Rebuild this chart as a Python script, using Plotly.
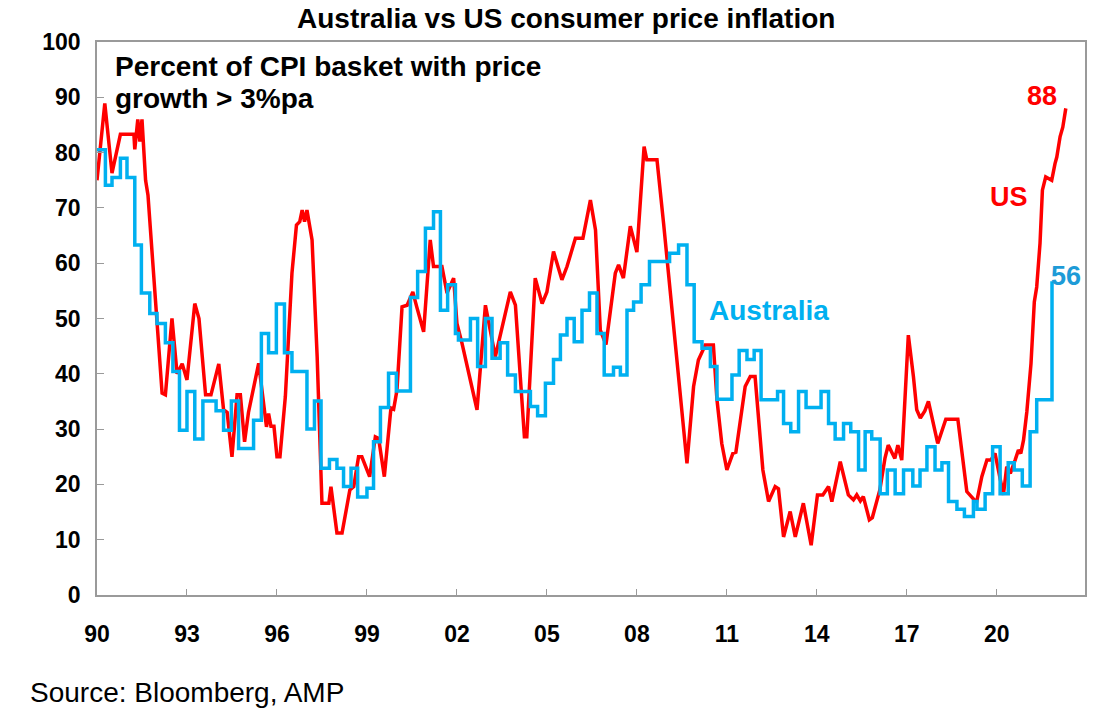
import plotly.graph_objects as go

# ---- Data ----
us_x = [1990.0, 1990.26, 1990.5, 1990.78, 1991.23, 1991.26, 1991.36, 1991.43, 1991.5, 1991.62,
        1991.7, 1992.17, 1992.28, 1992.5, 1992.67, 1992.84, 1993.0, 1993.26, 1993.4, 1993.62,
        1993.8, 1994.06, 1994.22, 1994.34, 1994.5, 1994.67, 1994.78, 1994.92, 1995.05, 1995.17,
        1995.39, 1995.65, 1995.72, 1995.8, 1995.9, 1996.0, 1996.1, 1996.28, 1996.5, 1996.65,
        1996.76, 1996.84, 1996.92, 1997.0, 1997.17, 1997.34, 1997.5, 1997.73, 1997.8, 1998.0,
        1998.17, 1998.43, 1998.56, 1998.72, 1998.83, 1999.09, 1999.28, 1999.39, 1999.58, 1999.8,
        1999.89, 2000.0, 2000.17, 2000.34, 2000.53, 2000.66, 2000.89, 2001.11, 2001.22, 2001.5,
        2001.67, 2001.89, 2002.0, 2002.17, 2002.67, 2002.95, 2003.06, 2003.28, 2003.78, 2003.95,
        2004.25, 2004.33, 2004.61, 2004.84, 2005.0, 2005.22, 2005.5, 2005.67, 2005.95, 2006.2,
        2006.45, 2006.62, 2006.78, 2006.97, 2007.28, 2007.39, 2007.55, 2007.78, 2008.0, 2008.24,
        2008.33, 2008.67, 2008.89, 2009.11, 2009.33, 2009.67, 2009.89, 2010.05, 2010.28, 2010.55,
        2010.67, 2010.83, 2011.0, 2011.2, 2011.3, 2011.61, 2011.78, 2011.94, 2012.2, 2012.39,
        2012.61, 2012.72, 2012.89, 2013.11, 2013.28, 2013.55, 2013.81, 2014.02, 2014.2, 2014.39,
        2014.5, 2014.78, 2015.05, 2015.22, 2015.33, 2015.45, 2015.55, 2015.75, 2015.85, 2016.1,
        2016.27, 2016.38, 2016.6, 2016.7, 2016.83, 2017.05, 2017.22, 2017.33, 2017.45, 2017.6,
        2017.72, 2018.03, 2018.3, 2018.7, 2019.0, 2019.1, 2019.25, 2019.33, 2019.5, 2019.67,
        2019.8, 2019.94, 2020.1, 2020.22, 2020.33, 2020.45, 2020.61, 2020.72, 2020.8, 2020.89,
        2021.0, 2021.14, 2021.25, 2021.33, 2021.44, 2021.52, 2021.63, 2021.83, 2021.94, 2022.0,
        2022.11, 2022.2, 2022.3]
us_y = [75.0, 88.9, 76.3, 83.3, 83.3, 80.6, 86.0, 82.0, 86.0, 75.0,
        72.3, 36.5, 36.2, 50.0, 40.0, 41.8, 38.9, 52.7, 50.0, 36.2,
        36.2, 41.8, 33.5, 33.0, 25.0, 36.2, 36.2, 27.7, 33.0, 36.2,
        41.9, 30.4, 32.8, 30.5, 30.5, 25.0, 25.0, 35.9, 58.2, 66.9,
        67.5, 69.6, 67.5, 69.6, 64.2, 43.1, 16.6, 16.6, 19.6, 11.2,
        11.2, 19.0, 19.6, 25.0, 25.0, 21.4, 28.6, 28.3, 21.4, 33.8,
        33.6, 37.0, 52.1, 52.4, 54.8, 52.1, 47.6, 64.2, 59.4, 59.4,
        54.6, 57.3, 49.1, 45.5, 33.5, 52.4, 49.0, 43.1, 54.8, 52.4,
        28.6, 28.6, 57.3, 52.7, 54.8, 62.1, 57.0, 59.4, 64.5, 64.5,
        71.4, 66.0, 47.9, 45.3, 58.2, 59.7, 57.3, 66.7, 62.0, 81.1,
        78.7, 78.7, 67.2, 55.2, 42.5, 23.8, 37.7, 42.5, 45.2, 45.2,
        35.3, 27.4, 22.6, 25.6, 25.8, 37.7, 39.5, 39.5, 22.6, 16.9,
        19.6, 19.2, 10.5, 15.1, 10.5, 16.6, 9.0, 18.1, 18.1, 19.6,
        16.9, 24.1, 18.1, 17.2, 18.1, 17.0, 17.8, 13.6, 14.0, 19.0,
        24.7, 27.1, 24.7, 27.1, 24.4, 47.0, 39.5, 33.5, 32.0, 33.3,
        35.0, 27.4, 31.8, 31.8, 18.7, 18.0, 17.2, 16.9, 21.4, 24.4,
        24.4, 25.6, 21.0, 18.1, 23.2, 22.0, 24.4, 26.2, 25.6, 28.0,
        33.1, 41.9, 53.0, 55.7, 63.6, 73.2, 75.6, 75.0, 78.0, 79.2,
        82.9, 84.6, 88.0]

aus_x = [1990.0, 1990.28, 1990.5, 1990.78, 1991.0, 1991.26, 1991.48, 1991.76, 1992.0, 1992.28,
         1992.53, 1992.75, 1993.0, 1993.26, 1993.53, 1993.97, 1994.22, 1994.48, 1994.72, 1995.22,
         1995.48, 1995.72, 1995.98, 1996.25, 1996.5, 1997.0, 1997.25, 1997.47, 1997.75, 1998.0,
         1998.22, 1998.47, 1998.69, 1999.0, 1999.22, 1999.45, 1999.72, 1999.98, 2000.45, 2000.69,
         2000.95, 2001.22, 2001.45, 2001.69, 2001.95, 2002.05, 2002.45, 2002.69, 2002.95, 2003.17,
         2003.44, 2003.69, 2003.95, 2004.45, 2004.69, 2004.95, 2005.22, 2005.45, 2005.67, 2005.91,
         2006.17, 2006.42, 2006.67, 2006.91, 2007.22, 2007.45, 2007.67, 2007.89, 2008.14, 2008.42,
         2009.09, 2009.39, 2009.67, 2009.91, 2010.17, 2010.45, 2010.67, 2011.17, 2011.41, 2011.67,
         2011.91, 2012.14, 2012.69, 2012.89, 2013.13, 2013.39, 2013.64, 2014.14, 2014.39, 2014.61,
         2014.89, 2015.13, 2015.39, 2015.61, 2015.83, 2016.11, 2016.35, 2016.61, 2016.89, 2017.2,
         2017.44, 2017.67, 2017.94, 2018.17, 2018.39, 2018.67, 2018.92, 2019.22, 2019.34, 2019.61,
         2019.86, 2020.11, 2020.38, 2020.58, 2020.85, 2021.11, 2021.33, 2021.84, 2021.9]
aus_y = [80.5, 74.1, 75.5, 79.0, 75.5, 63.3, 54.6, 50.9, 49.1, 45.6,
         40.4, 29.8, 36.8, 28.2, 35.1, 33.3, 29.8, 35.1, 26.5, 31.6,
         47.3, 43.8, 52.6, 43.8, 40.4, 30.0, 35.1, 22.9, 24.5, 22.9,
         19.6, 22.9, 17.7, 19.3, 27.7, 33.9, 40.1, 36.9, 53.8, 58.5,
         66.3, 69.3, 51.5, 56.1, 47.3, 46.1, 50.0, 41.3, 50.0, 42.8,
         45.6, 39.8, 36.8, 34.1, 32.4, 38.3, 42.6, 47.0, 50.0, 45.8,
         51.5, 54.6, 47.3, 39.8, 41.2, 39.8, 51.5, 53.0, 56.1, 60.3,
         61.8, 63.3, 56.1, 45.8, 44.6, 41.3, 35.4, 39.8, 44.2, 42.6,
         44.2, 35.3, 36.8, 31.0, 29.5, 36.8, 33.9, 36.8, 31.0, 28.2,
         31.0, 29.5, 22.6, 29.5, 28.2, 18.3, 22.6, 18.3, 22.6, 19.7,
         22.6, 26.8, 22.6, 23.9, 16.9, 15.5, 14.2, 16.9, 15.5, 18.3,
         26.8, 18.3, 23.9, 22.6, 19.7, 29.5, 35.3, 56.4, 56.4]

tick_vals = [1990, 1993, 1996, 1999, 2002, 2005, 2008, 2011, 2014, 2017, 2020]
tick_text = ["90", "93", "96", "99", "02", "05", "08", "11", "14", "17", "20"]
y_ticks = [0, 10, 20, 30, 40, 50, 60, 70, 80, 90, 100]

RED = "#FF0000"
BLUE = "#00B0F0"
FONT = "Liberation Sans, Arial, sans-serif"

fig = go.Figure()
fig.add_trace(go.Scatter(x=us_x, y=us_y, mode="lines", name="US",
                         line=dict(color=RED, width=3.5), hoverinfo="skip"))
fig.add_trace(go.Scatter(x=aus_x, y=aus_y, mode="lines", name="Australia",
                         line=dict(color=BLUE, width=3.5, shape="hv"), hoverinfo="skip"))

fig.update_layout(
    width=1106, height=727,
    margin=dict(l=97, r=21, t=42, b=132),
    paper_bgcolor="white", plot_bgcolor="white",
    showlegend=False,
    font=dict(family=FONT, color="black"),
    xaxis=dict(range=[1990, 2022.94], tickvals=tick_vals, ticktext=tick_text,
               showgrid=False, zeroline=False, showline=True, linecolor="#9a9a9a",
               linewidth=1.5, mirror=True, ticks="inside", ticklen=6, tickcolor="#9a9a9a",
               tickfont=dict(family=FONT, size=23, color="black", weight="bold"),
               ticklabelstandoff=18),
    yaxis=dict(range=[0, 100], tickvals=y_ticks,
               showgrid=False, zeroline=False, showline=True, linecolor="#9a9a9a",
               linewidth=1.5, mirror=True, ticks="inside", ticklen=7, tickcolor="#9a9a9a",
               tickfont=dict(family=FONT, size=23, color="black", weight="bold"),
               ticklabelstandoff=10),
)

anns = [
    dict(text="Australia vs US consumer price inflation", xref="paper", yref="paper",
         x=0.475, y=1.043, xanchor="center", yanchor="middle",
         font=dict(size=28, weight="bold", color="black")),
    dict(text="Percent of CPI basket with price", xref="paper", yref="paper",
         x=0.016, y=0.9566, xanchor="left", yanchor="middle",
         font=dict(size=28, weight="bold", color="black")),
    dict(text="growth > 3%pa", xref="paper", yref="paper",
         x=0.016, y=0.8987, xanchor="left", yanchor="middle",
         font=dict(size=28, weight="bold", color="black")),
    dict(text="88", x=2021.5, y=90.2, xanchor="center", yanchor="middle",
         font=dict(size=27, weight="bold", color=RED)),
    dict(text="US", x=2020.39, y=72.0, xanchor="center", yanchor="middle",
         font=dict(size=27, weight="bold", color=RED)),
    dict(text="56", x=2022.31, y=57.7, xanchor="center", yanchor="middle",
         font=dict(size=27, weight="bold", color="#1E9BD7")),
    dict(text="Australia", x=2012.42, y=51.5, xanchor="center", yanchor="middle",
         font=dict(size=28, weight="bold", color=BLUE)),
    dict(text="Source: Bloomberg, AMP", xref="paper", yref="paper",
         x=-0.0698, y=-0.177, xanchor="left", yanchor="middle",
         font=dict(size=28, color="black")),
]
for a in anns:
    a["showarrow"] = False
    fig.add_annotation(**a)

# remove the browser's default page margin so the chart sits at the window's top-left
fig.write_html("out.html", config={"displayModeBar": False},
               post_script="document.body.style.margin='0';")
